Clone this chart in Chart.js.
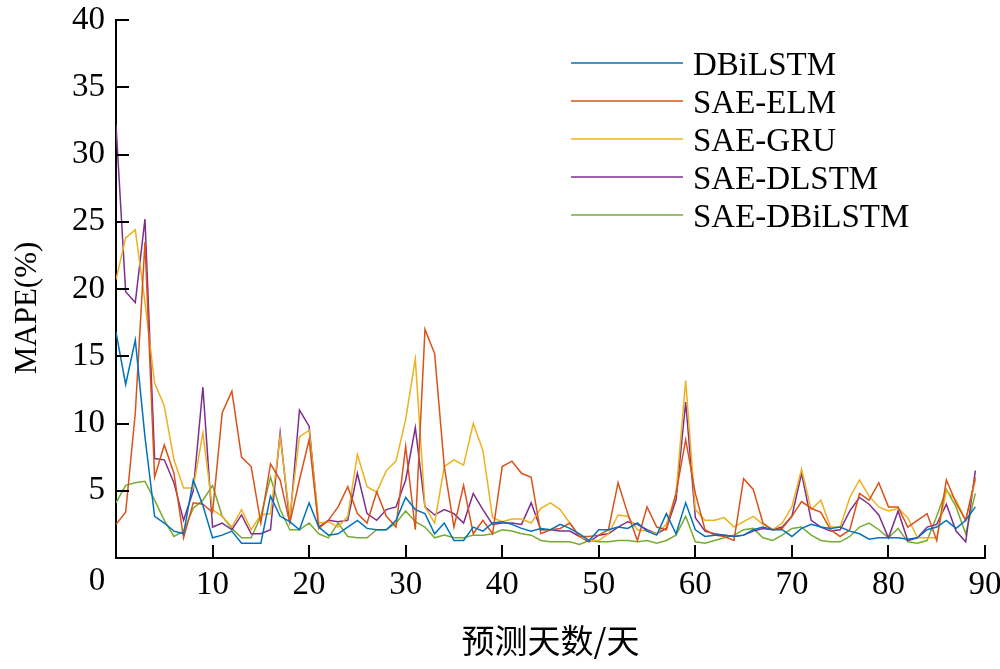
<!DOCTYPE html>
<html>
<head>
<meta charset="utf-8">
<script src="https://cdn.jsdelivr.net/npm/chart.js@4.4.0/dist/chart.umd.min.js"></script>
<style>
  html, body { margin: 0; padding: 0; background: #ffffff; }
  #wrap { width: 1000px; height: 669px; }
</style>
</head>
<body>
<div id="wrap"><canvas id="mapeChart" width="1000" height="669"></canvas></div>
<script>
// forecast day index 0..89
const days = Array.from({ length: 90 }, (_, i) => i);

const seriesNames = ['DBiLSTM', 'SAE-ELM', 'SAE-GRU', 'SAE-DLSTM', 'SAE-DBiLSTM'];
const seriesColors = ['#0072BD', '#D95319', '#EDB120', '#7E2F8E', '#77AC30'];

const dbilstm = [
    16.8, 12.9, 16.2, 9.0, 3.1, 2.6, 2.0, 1.8, 5.8, 3.9,
    1.5, 1.7, 2.0, 1.1, 1.1, 1.1, 4.6, 3.1, 2.7, 2.1,
    4.1, 2.3, 1.7, 1.8, 2.3, 2.8, 2.2, 2.1, 2.1, 2.8,
    4.5, 3.6, 3.3, 1.8, 2.6, 1.3, 1.3, 2.3, 2.0, 2.6,
    2.7, 2.5, 2.2, 2.0, 2.2, 2.1, 2.5, 2.2, 1.8, 1.3,
    2.1, 2.1, 2.3, 2.2, 2.6, 2.0, 1.7, 3.3, 1.8, 4.1,
    2.1, 1.6, 1.7, 1.7, 1.6, 1.7, 2.1, 2.3, 2.1, 2.1,
    1.6, 2.2, 2.5, 2.3, 2.2, 2.3, 2.0, 1.8, 1.4, 1.5,
    1.5, 1.5, 1.4, 1.5, 2.1, 2.3, 2.8, 2.2, 2.8, 3.8
];
const saeElm = [
    2.5, 3.4, 10.8, 23.5, 6.0, 8.4, 6.3, 1.5, 4.1, 4.0,
    3.4, 10.8, 12.4, 7.5, 6.8, 2.6, 7.0, 5.8, 2.6, 5.8,
    8.8, 2.2, 2.8, 3.8, 5.3, 3.3, 2.6, 4.9, 3.1, 2.3,
    8.3, 2.1, 17.0, 15.2, 6.8, 2.3, 5.4, 1.8, 2.8, 1.8,
    6.8, 7.2, 6.3, 6.0, 1.8, 2.1, 2.2, 2.6, 1.6, 1.6,
    1.7, 2.1, 5.6, 3.3, 1.3, 3.8, 2.3, 2.1, 4.8, 8.8,
    4.8, 2.1, 1.7, 1.6, 1.3, 5.9, 5.1, 2.6, 2.1, 2.2,
    3.1, 4.2, 3.7, 3.4, 2.1, 1.6, 2.1, 4.8, 4.3, 5.6,
    3.8, 3.8, 2.3, 2.8, 3.3, 1.3, 5.8, 4.1, 2.8, 6.0
];
const saeGru = [
    20.7, 23.8, 24.4, 19.0, 13.0, 11.3, 7.3, 5.2, 5.2, 9.3,
    3.6, 3.1, 2.3, 3.6, 2.1, 3.2, 3.3, 9.0, 3.1, 9.0,
    9.5, 2.6, 2.7, 2.3, 3.1, 7.7, 5.3, 4.9, 6.5, 7.2,
    10.3, 14.8, 3.8, 2.6, 6.8, 7.3, 6.9, 10.0, 8.0, 3.0,
    2.7, 2.9, 2.9, 2.6, 3.7, 4.1, 3.6, 2.6, 1.6, 1.3,
    1.3, 1.8, 3.2, 3.1, 2.1, 2.0, 1.8, 2.5, 4.8, 13.2,
    3.6, 2.8, 2.8, 3.0, 2.3, 2.7, 3.1, 2.5, 2.1, 2.6,
    3.8, 6.6, 3.6, 4.3, 2.3, 2.3, 4.5, 5.8, 4.6, 3.8,
    3.5, 3.7, 3.0, 1.5, 1.5, 1.5, 5.0, 4.3, 2.8, 5.8
];
const saeDlstm = [
    32.2, 19.8, 19.0, 25.2, 7.4, 7.3, 5.6, 2.8, 5.0, 12.7,
    2.3, 2.6, 2.1, 3.2, 1.8, 1.8, 2.1, 9.3, 2.6, 11.0,
    9.8, 2.3, 2.8, 2.7, 2.8, 6.3, 3.3, 2.8, 3.6, 3.8,
    5.8, 9.7, 3.8, 3.2, 3.6, 3.3, 2.6, 4.8, 3.6, 2.5,
    2.6, 2.6, 2.5, 4.1, 2.1, 2.1, 2.0, 2.0, 1.6, 1.2,
    1.7, 1.8, 2.3, 2.7, 2.5, 2.1, 1.8, 2.2, 4.3, 11.6,
    3.0, 2.0, 1.8, 1.7, 1.6, 1.7, 2.0, 2.2, 2.1, 2.3,
    3.1, 6.3, 2.8, 2.3, 2.0, 2.1, 3.5, 4.5, 4.0, 3.2,
    1.5, 3.5, 1.3, 1.5, 2.3, 2.5, 4.0, 2.0, 1.2, 6.5
];
const saeDbilstm = [
    4.1, 5.4, 5.6, 5.7, 4.3, 2.8, 1.6, 2.0, 3.7, 4.3,
    5.4, 3.1, 2.2, 1.5, 1.5, 3.1, 6.0, 3.6, 2.1, 2.1,
    2.6, 1.8, 1.5, 2.6, 1.6, 1.5, 1.5, 2.1, 2.1, 2.6,
    3.5, 2.7, 2.3, 1.5, 1.7, 1.5, 1.5, 1.7, 1.7, 1.8,
    2.1, 2.0, 1.8, 1.7, 1.3, 1.2, 1.2, 1.2, 1.0, 1.3,
    1.2, 1.2, 1.3, 1.3, 1.2, 1.3, 1.1, 1.3, 1.7, 3.1,
    1.2, 1.1, 1.3, 1.5, 1.7, 2.1, 2.2, 1.5, 1.3, 1.7,
    2.2, 2.3, 1.7, 1.3, 1.2, 1.2, 1.6, 2.3, 2.6, 2.1,
    1.5, 2.2, 1.2, 1.1, 1.3, 3.1, 5.1, 3.8, 1.8, 4.8
];

const allSeries = [dbilstm, saeElm, saeGru, saeDlstm, saeDbilstm];

const xTicks = [0, 10, 20, 30, 40, 50, 60, 70, 80, 90];
const yTicks = [0, 5, 10, 15, 20, 25, 30, 35, 40];

const serif = '"Liberation Serif", "DejaVu Serif", serif';

// inward tick marks, the lone "0" at the corner, y title and the legend inside the plot
const extrasPlugin = {
    id: 'extras',
    afterDraw(chart) {
        const ctx = chart.ctx;
        const xs = chart.scales.x;
        const ys = chart.scales.y;
        const area = chart.chartArea;
        ctx.save();
        ctx.strokeStyle = '#000';
        ctx.lineWidth = 2;
        yTicks.forEach(v => {
            if (v === 0) return;
            const py = Math.round(ys.getPixelForValue(v));
            ctx.beginPath();
            ctx.moveTo(area.left, py);
            ctx.lineTo(area.left + 13, py);
            ctx.stroke();
        });
        xTicks.forEach(v => {
            if (v === 0) return;
            const px = Math.round(xs.getPixelForValue(v));
            ctx.beginPath();
            ctx.moveTo(px, area.bottom);
            ctx.lineTo(px, area.bottom - 13);
            ctx.stroke();
        });

        ctx.fillStyle = '#000';
        ctx.font = '33px ' + serif;
        ctx.textAlign = 'center';
        ctx.textBaseline = 'middle';
        ctx.fillText('0', area.left - 19, area.bottom + 23);

        // y axis title, vertical
        ctx.save();
        ctx.translate(28, 308);
        ctx.rotate(-Math.PI / 2);
        ctx.font = '31px ' + serif;
        ctx.fillText('MAPE(%)', 0, 0);
        ctx.restore();

        // legend
        ctx.font = '33px ' + serif;
        ctx.textAlign = 'left';
        chart.data.datasets.forEach((ds, i) => {
            const rowY = 66 + i * 38;
            ctx.strokeStyle = ds.borderColor;
            ctx.lineWidth = 1.6;
            ctx.beginPath();
            ctx.moveTo(571, rowY - 3);
            ctx.lineTo(683, rowY - 3);
            ctx.stroke();
            ctx.fillStyle = '#000';
            ctx.fillText(ds.label, 693, rowY);
        });
        ctx.restore();
    }
};

const ctx = document.getElementById('mapeChart');

new Chart(ctx, {
    type: 'line',
    data: {
        datasets: allSeries.map((vals, i) => ({
            label: seriesNames[i],
            data: vals.map((v, j) => ({ x: days[j], y: v })),
            borderColor: seriesColors[i],
            backgroundColor: seriesColors[i],
            borderWidth: 1.5,
            pointRadius: 0,
            tension: 0,
            fill: false
        }))
    },
    options: {
        responsive: false,
        animation: false,
        layout: {
            padding: { top: 0, right: 0, left: 0, bottom: 0 }
        },
        plugins: {
            legend: { display: false },
            tooltip: { enabled: false }
        },
        scales: {
            x: {
                type: 'linear',
                min: 0,
                max: 90,
                afterFit: scale => {
                    scale.height = 111;
                    scale.paddingLeft = 0;
                    scale.paddingRight = 15;
                },
                afterBuildTicks: scale => {
                    scale.ticks = xTicks.map(v => ({ value: v }));
                },
                ticks: {
                    color: '#000',
                    padding: 8,
                    maxRotation: 0,
                    font: { family: serif, size: 33 },
                    callback: v => (v === 0 ? '' : v)
                },
                grid: { display: true, drawOnChartArea: false, drawTicks: false },
                border: { display: true, color: '#000', width: 2 },
                title: {
                    display: true,
                    text: '预测天数/天',
                    color: '#000',
                    font: { family: '"Noto Sans CJK SC", ' + serif, size: 33 },
                    padding: { top: 0, bottom: 9 }
                }
            },
            y: {
                min: 0,
                max: 40,
                afterFit: scale => {
                    scale.width = 116;
                    scale.paddingTop = 20;
                    scale.paddingBottom = 0;
                },
                afterBuildTicks: scale => {
                    scale.ticks = yTicks.map(v => ({ value: v }));
                },
                ticks: {
                    color: '#000',
                    padding: 11,
                    font: { family: serif, size: 33 },
                    callback: v => (v === 0 ? '' : v)
                },
                grid: { display: true, drawOnChartArea: false, drawTicks: false },
                border: { display: true, color: '#000', width: 2 },
                title: { display: false }
            }
        }
    },
    plugins: [extrasPlugin]
});
</script>
</body>
</html>
